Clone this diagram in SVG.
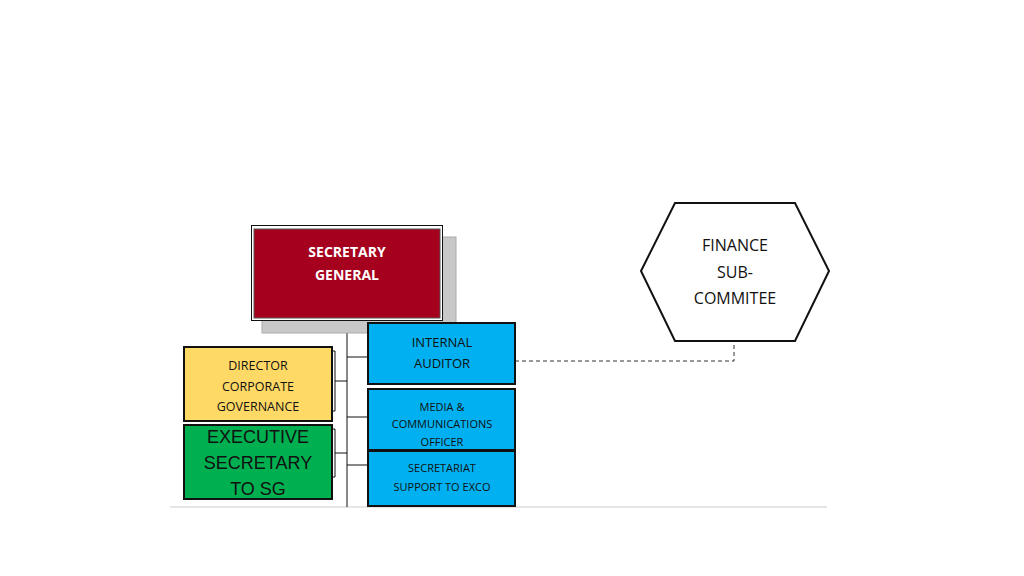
<svg xmlns="http://www.w3.org/2000/svg" width="1024" height="576" viewBox="0 0 1024 576">
<style>
.t{font-family:"Open Sans","Liberation Sans",sans-serif;text-anchor:middle;fill:#111}
.b{fill:#00b0f0;stroke:#111;stroke-width:2}
.ln{stroke:#111;stroke-width:1;fill:none}
</style>
<rect width="1024" height="576" fill="#fff"/>
<g id="connectors">
<line x1="170" y1="507" x2="827" y2="507" stroke="#ccc" stroke-width="1"/>
<line class="ln" x1="347" y1="321" x2="347" y2="507"/>
<line class="ln" x1="347" y1="357" x2="368" y2="357"/>
<line class="ln" x1="347" y1="417" x2="368" y2="417"/>
<line class="ln" x1="347" y1="465" x2="368" y2="465"/>
<line class="ln" x1="335" y1="381" x2="347" y2="381"/>
<line class="ln" x1="335" y1="453" x2="347" y2="453"/>
<polyline class="ln" points="332,351 335,351 335,411 332,411"/>
<polyline class="ln" points="332,429 335,429 335,477 332,477"/>
<polyline points="515,361 734,361 734,343" fill="none" stroke="#333" stroke-width="1" stroke-dasharray="4,3"/>
</g>
<g id="sg">
<rect x="262" y="237" width="194" height="96" fill="#c8c8c8" stroke="#aaa"/>
<rect x="251.5" y="225.5" width="191" height="95" fill="#fff" stroke="#111"/>
<rect x="254" y="229" width="186" height="89" fill="#a5001e" stroke="#555"/>
<text class="t" x="347" y="257" font-size="14" font-weight="bold" fill="#fff" style="fill:#fff">SECRETARY</text>
<text class="t" x="347" y="280" font-size="14" font-weight="bold" style="fill:#fff">GENERAL</text>
</g>
<g id="ia"><rect class="b" x="368" y="323" width="147" height="61"/>
<text class="t" x="442" y="347" font-size="13">INTERNAL</text><text class="t" x="442" y="368" font-size="13">AUDITOR</text></g>
<g id="media"><rect class="b" x="368" y="389" width="147" height="61"/>
<text class="t" x="442" y="411" font-size="11">MEDIA &amp;</text><text class="t" x="442" y="428" font-size="11">COMMUNICATIONS</text><text class="t" x="442" y="446" font-size="11">OFFICER</text></g>
<g id="sec"><rect class="b" x="368" y="451" width="147" height="55"/>
<text class="t" x="442" y="472" font-size="11">SECRETARIAT</text><text class="t" x="442" y="491" font-size="11">SUPPORT TO EXCO</text></g>
<g id="dcg"><rect x="184" y="347" width="148" height="74" fill="#ffd966" stroke="#111" stroke-width="2"/>
<text class="t" x="258" y="370" font-size="12.5">DIRECTOR</text><text class="t" x="258" y="391" font-size="12.5">CORPORATE</text><text class="t" x="258" y="411" font-size="12.5">GOVERNANCE</text></g>
<g id="es"><rect x="184" y="425" width="148" height="74" fill="#00b050" stroke="#111" stroke-width="2"/>
<text x="258" y="443" font-size="18" style="font-family:'Liberation Sans',Arial,sans-serif;text-anchor:middle" fill="#111">EXECUTIVE</text>
<text x="258" y="469" font-size="18" style="font-family:'Liberation Sans',Arial,sans-serif;text-anchor:middle" fill="#111">SECRETARY</text>
<text x="258" y="495" font-size="18" style="font-family:'Liberation Sans',Arial,sans-serif;text-anchor:middle" fill="#111">TO SG</text></g>
<g id="fin"><polygon points="641,271 675,203 795,203 829,271 795,341 675,341" fill="#fff" stroke="#111" stroke-width="2"/>
<text class="t" x="735" y="251" font-size="16">FINANCE</text><text class="t" x="735" y="278" font-size="16">SUB-</text><text class="t" x="735" y="304" font-size="16">COMMITEE</text></g>
</svg>
